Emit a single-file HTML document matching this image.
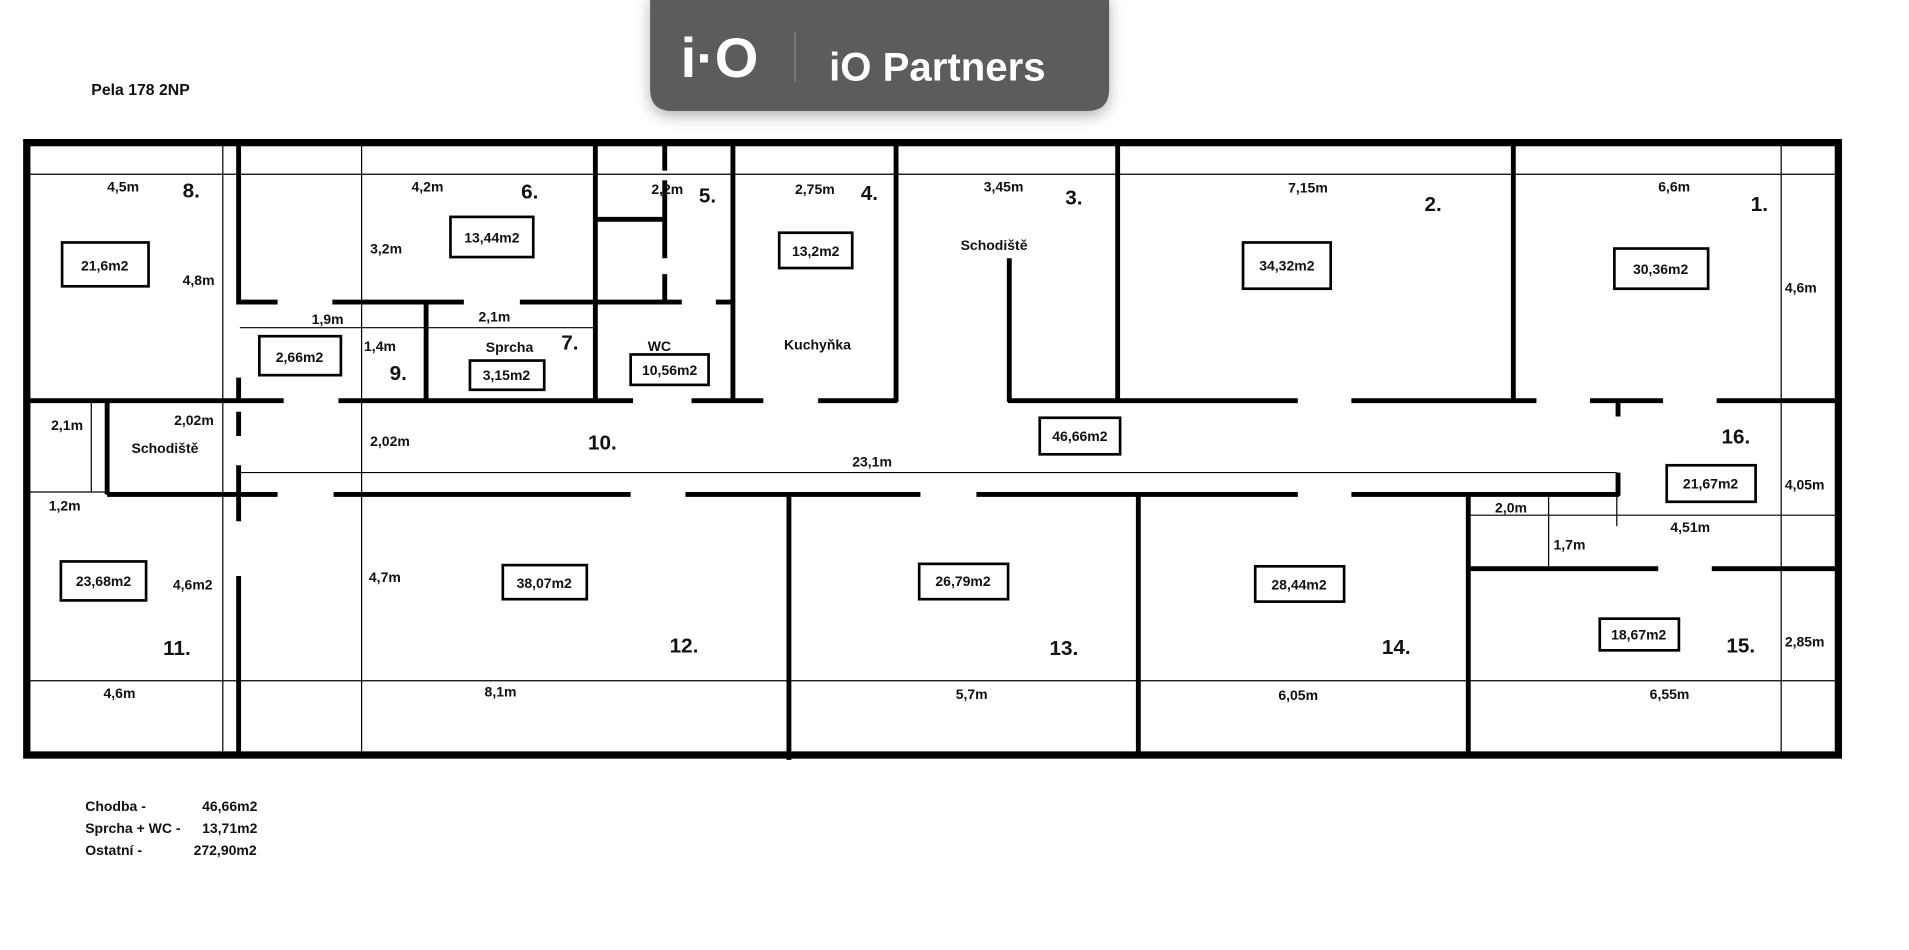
<!DOCTYPE html>
<html><head><meta charset="utf-8"><style>
html,body{margin:0;padding:0;background:#fff;width:1909px;height:950px;overflow:hidden}
svg{display:block}
.m{font-family:"Liberation Sans Narrow","Liberation Sans",sans-serif;font-weight:bold;font-size:11.5px;fill:#111}
.n{font-family:"Liberation Sans Narrow","Liberation Sans",sans-serif;font-weight:bold;font-size:17px;fill:#111}
.w{stroke:#000;stroke-width:4;fill:none}
.t{stroke:#000;stroke-width:1;fill:none}
.b{stroke:#000;stroke-width:2.2;fill:#fff}
</style></head><body>
<svg width="1909" height="950" viewBox="0 0 1568 780" xmlns="http://www.w3.org/2000/svg">
<defs><filter id="sh" x="-10%" y="-30%" width="120%" height="170%"><feDropShadow dx="0" dy="4" stdDeviation="6" flood-color="#000" flood-opacity="0.3"/></filter></defs>
<!-- logo -->
<path d="M534,-5 H911 V73 Q911,91 893,91 H552 Q534,91 534,73 Z" fill="#5b5b5b" filter="url(#sh)"/>
<text x="559" y="63" font-family="Liberation Sans,sans-serif" font-weight="bold" font-size="46" fill="#fff">i·O</text>
<line x1="653" y1="26" x2="653" y2="67" stroke="#888" stroke-width="1"/>
<text x="681" y="66" font-family="Liberation Sans,sans-serif" font-weight="bold" font-size="33" fill="#fff">iO Partners</text>

<text x="75" y="78" class="m" style="font-size:13px">Pela 178  2NP</text>

<!-- thin lines -->
<g class="t">
<line x1="22" y1="143" x2="1510" y2="143"/>
<line x1="22" y1="559" x2="1510" y2="559"/>
<line x1="183" y1="117" x2="183" y2="620"/>
<line x1="297" y1="117" x2="297" y2="620"/>
<line x1="1463" y1="117" x2="1463" y2="620"/>
<line x1="22" y1="404" x2="88" y2="404"/>
<line x1="75" y1="330" x2="75" y2="404"/>
<line x1="197" y1="388" x2="1328" y2="388"/>
<line x1="197" y1="269" x2="488" y2="269"/>
<line x1="1207" y1="423" x2="1510" y2="423"/>
<line x1="1272" y1="407" x2="1272" y2="467"/>
<line x1="1328" y1="407" x2="1328" y2="432"/>
</g>
<!-- outer frame -->
<rect x="22" y="117" width="1488" height="503" fill="none" stroke="#000" stroke-width="6"/>
<!-- walls -->
<g class="w">
<path d="M196,117V250 M196,310V330 M196,338V358 M196,382V428 M196,473V620"/>
<path d="M196,248H228 M273,248H381 M427,248H560 M588,248H601"/>
<path d="M350,248V330 M489,117V330 M546,117V140 M546,148V212 M546,225V250 M489,180H546"/>
<path d="M602,117V330 M736,117V330 M829,212V330 M918,117V330 M1243,117V330 M1329,329V342"/>
<path d="M22,329H233 M278,329H520 M568,329H627 M672,329H737 M828,329H1066 M1110,329H1262 M1306,329H1366 M1410,329H1510"/>
<path d="M88,329V406 M88,406H228 M274,406H518 M563,406H756 M802,406H1066 M1110,406H1330 M1329,388V407"/>
<path d="M648,406V624 M935,406V620 M1206,406V620 M1207,467H1362 M1406,467H1512"/>
</g>
<!-- area boxes -->
<g class="b">
<rect x="51" y="199" width="71" height="36"/>
<rect x="370" y="178" width="68" height="33"/>
<rect x="640" y="191" width="60" height="29"/>
<rect x="1021" y="199" width="72" height="38"/>
<rect x="1326" y="204" width="77" height="33"/>
<rect x="213" y="276" width="67" height="32"/>
<rect x="386" y="296" width="61" height="24"/>
<rect x="518" y="291" width="64" height="25"/>
<rect x="854" y="343" width="66" height="30"/>
<rect x="1369" y="382" width="73" height="30"/>
<rect x="50" y="461" width="70" height="32"/>
<rect x="413" y="464" width="69" height="28"/>
<rect x="755" y="463" width="73" height="29"/>
<rect x="1031" y="465" width="73" height="29"/>
<rect x="1314" y="508" width="65" height="26"/>
</g>
<g class="m" text-anchor="middle">
<text x="86" y="222">21,6m2</text><text x="404" y="199">13,44m2</text><text x="670" y="210">13,2m2</text>
<text x="1057" y="222">34,32m2</text><text x="1364" y="225">30,36m2</text><text x="246" y="297">2,66m2</text>
<text x="416" y="312">3,15m2</text><text x="550" y="308">10,56m2</text><text x="887" y="362">46,66m2</text>
<text x="1405" y="401">21,67m2</text><text x="85" y="481">23,68m2</text><text x="447" y="483">38,07m2</text>
<text x="791" y="481">26,79m2</text><text x="1067" y="484">28,44m2</text><text x="1346" y="525">18,67m2</text>
</g>
<g class="m">
<text x="88" y="157">4,5m</text><text x="338" y="157">4,2m</text><text x="535" y="159">2,2m</text><text x="653" y="159">2,75m</text>
<text x="808" y="157">3,45m</text><text x="1058" y="158">7,15m</text><text x="1362" y="157">6,6m</text>
<text x="150" y="234">4,8m</text><text x="304" y="208">3,2m</text><text x="789" y="205">Schodiště</text><text x="1466" y="240">4,6m</text>
<text x="256" y="266">1,9m</text><text x="393" y="264">2,1m</text><text x="299" y="288">1,4m</text><text x="399" y="289">Sprcha</text>
<text x="532" y="288">WC</text><text x="644" y="287">Kuchyňka</text>
<text x="42" y="353">2,1m</text><text x="143" y="349">2,02m</text><text x="108" y="372">Schodiště</text><text x="304" y="366">2,02m</text>
<text x="700" y="383">23,1m</text><text x="40" y="419">1,2m</text><text x="1228" y="421">2,0m</text><text x="1372" y="437">4,51m</text>
<text x="1466" y="402">4,05m</text><text x="1276" y="451">1,7m</text><text x="142" y="484">4,6m2</text><text x="303" y="478">4,7m</text>
<text x="1466" y="531">2,85m</text><text x="85" y="573">4,6m</text><text x="398" y="572">8,1m</text><text x="785" y="574">5,7m</text>
<text x="1050" y="575">6,05m</text><text x="1355" y="574">6,55m</text>
<text x="70" y="666">Chodba -</text><text x="166" y="666">46,66m2</text>
<text x="70" y="684">Sprcha + WC -</text><text x="166" y="684">13,71m2</text>
<text x="70" y="702">Ostatní -</text><text x="159" y="702">272,90m2</text>
</g>
<g class="n">
<text x="150" y="162">8.</text><text x="428" y="163">6.</text><text x="574" y="166">5.</text><text x="707" y="164">4.</text>
<text x="875" y="168">3.</text><text x="1170" y="173">2.</text><text x="1438" y="173">1.</text>
<text x="461" y="287">7.</text><text x="320" y="312">9.</text><text x="483" y="369">10.</text><text x="1414" y="364">16.</text>
<text x="134" y="538">11.</text><text x="550" y="536">12.</text><text x="862" y="538">13.</text><text x="1135" y="537">14.</text><text x="1418" y="536">15.</text>
</g>
</svg>
</body></html>
